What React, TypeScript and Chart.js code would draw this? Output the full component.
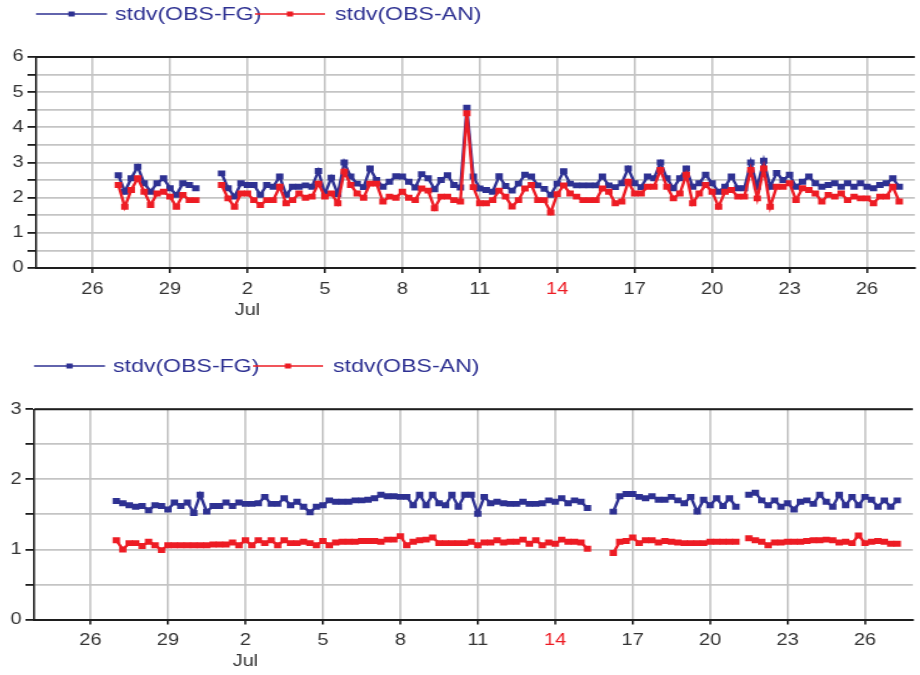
import { useEffect, useRef } from 'react';
import { Chart, registerables } from 'chart.js';

Chart.register(...registerables);

// Time axis: day numbers counted from 0 June, so 1 July = 31.
const FIRST_DAY = 27; // 27 June 00 UTC
const STEP_DAYS = 0.25; // one value every 6 hours
const X_MIN = 23.82;
const X_MAX = 57.85;
const TICK_DAYS = [26, 29, 32, 35, 38, 41, 44, 47, 50, 53, 56];
const TICK_LABELS: (string | string[])[] = ['26', '29', ['2', 'Jul'], '5', '8', '11', '14', '17', '20', '23', '26'];
const HIGHLIGHT_TICK = 44; // 14 Jul

const SERIES_NAMES = ['stdv(OBS-FG)', 'stdv(OBS-AN)'];

// Upper panel (6-hourly, 27 Jun 00 UTC .. 27 Jul 06 UTC)
const UPPER_FG = [
  2.64, 2.17, 2.55, 2.88, 2.41, 2.17, 2.41, 2.55, 2.27, 2.08, 2.41, 2.36, 2.27,
  null, null, null,
  2.69, 2.27, 2.03, 2.41, 2.36, 2.36, 2.08, 2.36, 2.31, 2.6, 2.08, 2.31,
  2.31, 2.35, 2.31, 2.76, 2.1, 2.57, 2.1, 3.0, 2.6, 2.4, 2.3, 2.83,
  2.5, 2.31, 2.45, 2.61, 2.6, 2.45, 2.29, 2.67, 2.55, 2.24, 2.5, 2.64, 2.36, 2.29,
  4.56,
  2.6, 2.26, 2.22, 2.17, 2.61, 2.33, 2.2, 2.4, 2.65, 2.6, 2.35, 2.25, 2.08, 2.4, 2.75,
  2.4, 2.35, 2.35, 2.35, 2.35, 2.6, 2.35, 2.3,
  2.41, 2.83, 2.41, 2.3, 2.6, 2.55, 3.0, 2.55, 2.27, 2.55,
  2.83, 2.31, 2.41, 2.65, 2.41, 2.17, 2.31, 2.6, 2.27, 2.27,
  3.0, 2.31, 3.05, 2.31, 2.7, 2.5, 2.65, 2.31, 2.45, 2.6,
  2.41, 2.31, 2.36, 2.41, 2.31, 2.41, 2.31, 2.41, 2.31, 2.27,
  2.36, 2.41, 2.55, 2.31,
];

const UPPER_AN = [
  2.36, 1.74, 2.22, 2.55, 2.17, 1.79, 2.12, 2.17, 2.03, 1.74, 2.08, 1.93, 1.93,
  null, null, null,
  2.36, 1.98, 1.74, 2.12, 2.12, 1.93, 1.79, 1.93, 1.93, 2.31, 1.84, 1.93,
  2.12, 2.0, 2.03, 2.4, 2.03, 2.12, 1.84, 2.74, 2.36, 2.12,
  2.0, 2.4, 2.4, 1.89, 2.03, 2.0, 2.17, 2.0, 1.93, 2.26,
  2.2, 1.7, 2.03, 2.03, 1.93, 1.89,
  4.4,
  2.3, 1.84, 1.84, 1.93, 2.2, 2.03, 1.75, 1.93, 2.26, 2.36, 1.93, 1.93, 1.58, 2.1, 2.35,
  2.12, 2.03, 1.93, 1.93, 1.93, 2.26, 2.17, 1.84,
  1.89, 2.45, 2.12, 2.12, 2.31, 2.31, 2.79, 2.31, 1.98, 2.12,
  2.65, 1.84, 2.12, 2.36, 2.17, 1.74, 2.17, 2.22, 2.03, 2.03,
  2.79, 1.98, 2.83, 1.74, 2.31, 2.31, 2.41, 1.93, 2.27, 2.22,
  2.12, 1.89, 2.08, 2.03, 2.12, 1.93, 2.03, 1.98, 1.98, 1.84,
  2.03, 2.03, 2.31, 1.89,
];

// Lower panel (same time steps)
const LOWER_FG = [
  1.69, 1.66, 1.63, 1.61, 1.62, 1.56, 1.63, 1.62, 1.57, 1.67,
  1.62, 1.67, 1.52, 1.78, 1.54, 1.62, 1.62, 1.67, 1.62, 1.67,
  1.65, 1.65, 1.66, 1.75, 1.65, 1.65, 1.73, 1.63, 1.68, 1.61,
  1.53, 1.61, 1.63, 1.7, 1.68, 1.68, 1.68, 1.7, 1.7, 1.71,
  1.73, 1.78, 1.76, 1.76, 1.75, 1.75, 1.63, 1.78, 1.63, 1.78,
  1.66, 1.63, 1.78, 1.61, 1.78, 1.78, 1.51, 1.75, 1.66, 1.68,
  1.66, 1.65, 1.65, 1.68, 1.65, 1.65, 1.66, 1.7, 1.68, 1.73,
  1.66, 1.7, 1.68, 1.59,
  null, null, null,
  1.54, 1.76, 1.79, 1.79, 1.75, 1.73, 1.76, 1.71, 1.71, 1.75,
  1.7, 1.66, 1.75, 1.54, 1.71, 1.63, 1.73, 1.62, 1.73, 1.61,
  null,
  1.78, 1.81, 1.7, 1.63, 1.7, 1.61, 1.66, 1.57, 1.68, 1.7,
  1.65, 1.78, 1.68, 1.61, 1.78, 1.63, 1.75, 1.63, 1.75, 1.71,
  1.61, 1.7, 1.61, 1.7,
];

const LOWER_AN = [
  1.13, 1.0, 1.09, 1.09, 1.05, 1.11, 1.06, 0.99, 1.06, 1.06,
  1.06, 1.06, 1.06, 1.06, 1.06, 1.07, 1.07, 1.07, 1.1, 1.06,
  1.13, 1.06, 1.13, 1.09, 1.13, 1.06, 1.13, 1.09, 1.09, 1.11,
  1.09, 1.06, 1.12, 1.06, 1.1, 1.11, 1.11, 1.11, 1.12, 1.12,
  1.12, 1.11, 1.14, 1.14, 1.19, 1.06, 1.11, 1.13, 1.14, 1.17,
  1.09, 1.09, 1.09, 1.09, 1.09, 1.11, 1.06, 1.1, 1.1, 1.13,
  1.1, 1.11, 1.11, 1.14, 1.08, 1.13, 1.06, 1.1, 1.08, 1.14,
  1.11, 1.11, 1.1, 1.01,
  null, null, null,
  0.95, 1.11, 1.12, 1.17, 1.09, 1.13, 1.13, 1.1, 1.12, 1.11,
  1.1, 1.09, 1.09, 1.09, 1.09, 1.11, 1.11, 1.11, 1.11, 1.11,
  null,
  1.16, 1.13, 1.11, 1.06, 1.1, 1.1, 1.11, 1.11, 1.11, 1.12,
  1.13, 1.13, 1.14, 1.13, 1.1, 1.11, 1.09, 1.2, 1.09, 1.11,
  1.12, 1.11, 1.08, 1.08,
];

// Drawing constants
const PAGE_W = 920;
const STRETCH = 1.25; // canvas bitmap is widened to the page width
const INNER_W = PAGE_W / STRETCH;
const FONT = '"Liberation Sans", Arial, Helvetica, sans-serif';
const BLUE = '#2e3192';
const RED = '#ed1c24';
const GRID = '#c4c4c4';
const AXIS = '#1e1e1e';
const TICK_TEXT = '#333333';

const toPoints = (vals: (number | null)[]) =>
  vals.map((v, i) => ({ x: FIRST_DAY + i * STEP_DAYS, y: v }));

// Dark frame line along the top of the plot area
const frameTop = {
  id: 'frameTop',
  afterDraw(chart: any) {
    const { ctx, chartArea } = chart;
    ctx.save();
    ctx.strokeStyle = AXIS;
    ctx.lineWidth = 2;
    ctx.beginPath();
    ctx.moveTo(chartArea.left, chartArea.top);
    ctx.lineTo(chartArea.right, chartArea.top);
    ctx.stroke();
    ctx.restore();
  },
};

// Line-and-marker legend drawn above the plot
const stdvLegend = {
  id: 'stdvLegend',
  afterDraw(chart: any, _args: any, opts: any) {
    const { ctx } = chart;
    const y = opts.y;
    const entries = [
      { color: BLUE, x0: 28.8, x1: 85.6, text: SERIES_NAMES[0], tx: 92 },
      { color: RED, x0: 204, x1: 260, text: SERIES_NAMES[1], tx: 268 },
    ];
    ctx.save();
    for (const e of entries) {
      ctx.strokeStyle = e.color;
      ctx.fillStyle = e.color;
      ctx.lineWidth = 1.6;
      ctx.beginPath();
      ctx.moveTo(e.x0, y);
      ctx.lineTo(e.x1, y);
      ctx.stroke();
      const mx = (e.x0 + e.x1) / 2;
      ctx.fillRect(mx - 2.5, y - 2.5, 5, 5);
      ctx.fillStyle = BLUE;
      ctx.font = `18.5px ${FONT}`;
      ctx.textBaseline = 'middle';
      ctx.fillText(e.text, e.tx, y + 1);
    }
    ctx.restore();
  },
};

function makeConfig(fg: (number | null)[], an: (number | null)[], yMax: number, padTop: number, padBottom: number, legendY: number): any {
  const lineStyle = (color: string, order: number) => ({
    borderColor: color,
    backgroundColor: color,
    pointBackgroundColor: color,
    borderWidth: 2.4,
    pointStyle: 'rect',
    pointRadius: 4.2,
    pointBorderWidth: 0,
    pointHoverRadius: 4.2,
    tension: 0,
    spanGaps: false,
    order,
  });
  return {
    type: 'line',
    data: {
      datasets: [
        { label: SERIES_NAMES[0], data: toPoints(fg), ...lineStyle(BLUE, 1) },
        { label: SERIES_NAMES[1], data: toPoints(an), ...lineStyle(RED, 0) },
      ],
    },
    options: {
      responsive: false,
      maintainAspectRatio: false,
      animation: false,
      devicePixelRatio: 1,
      events: [],
      layout: { padding: { left: 10, right: 0, top: padTop, bottom: padBottom } },
      plugins: {
        legend: { display: false },
        tooltip: { enabled: false },
        stdvLegend: { y: legendY },
      },
      scales: {
        x: {
          type: 'linear',
          min: X_MIN,
          max: X_MAX,
          afterBuildTicks: (axis: any) => {
            axis.ticks = TICK_DAYS.map((v) => ({ value: v }));
          },
          afterFit: (scale: any) => {
            scale.height = 50;
          },
          ticks: {
            autoSkip: false,
            maxRotation: 0,
            padding: 6,
            font: { family: FONT, size: 16, lineHeight: 1.3 },
            color: (c: any) => (c.tick && c.tick.value === HIGHLIGHT_TICK ? RED : TICK_TEXT),
            callback: (_v: any, i: number) => TICK_LABELS[i],
          },
          grid: { color: GRID, lineWidth: 1.6, tickColor: AXIS, tickLength: 5, drawTicks: true },
          border: { display: true, color: AXIS, width: 2 },
        },
        y: {
          min: 0,
          max: yMax,
          afterFit: (scale: any) => {
            scale.width = 19;
          },
          ticks: {
            stepSize: 0.5,
            padding: 3,
            autoSkip: false,
            font: { family: FONT, size: 16 },
            color: TICK_TEXT,
            callback: (v: number) => (Number.isInteger(v) ? String(v) : ''),
          },
          grid: { color: GRID, lineWidth: 1.8, tickColor: AXIS, tickLength: 7, drawTicks: true },
          border: { display: true, color: AXIS, width: 1.6 },
        },
      },
    },
    plugins: [frameTop, stdvLegend],
  };
}

function Panel(props: {
  top: number;
  left: number;
  height: number;
  fg: (number | null)[];
  an: (number | null)[];
  yMax: number;
  padTop: number;
  padBottom: number;
  legendY: number;
}) {
  const ref = useRef<HTMLCanvasElement>(null);
  const { top, left, height, fg, an, yMax, padTop, padBottom, legendY } = props;
  useEffect(() => {
    if (!ref.current) return;
    const chart = new Chart(ref.current, makeConfig(fg, an, yMax, padTop, padBottom, legendY));
    return () => chart.destroy();
  }, [fg, an, yMax, padTop, padBottom, legendY]);
  return (
    <canvas
      ref={ref}
      width={INNER_W}
      height={height}
      style={{ position: 'absolute', left, top, width: PAGE_W, height, display: 'block' }}
    />
  );
}

export default function App() {
  return (
    <div style={{ position: 'absolute', left: 0, top: 0, width: PAGE_W, height: 675, background: '#fff', overflow: 'hidden' }}>
      <Panel top={0} left={0} height={335} fg={UPPER_FG} an={UPPER_AN} yMax={6} padTop={57} padBottom={17} legendY={14} />
      <Panel top={335} left={-2} height={340} fg={LOWER_FG} an={LOWER_AN} yMax={3} padTop={74.3} padBottom={5.5} legendY={31} />
    </div>
  );
}
